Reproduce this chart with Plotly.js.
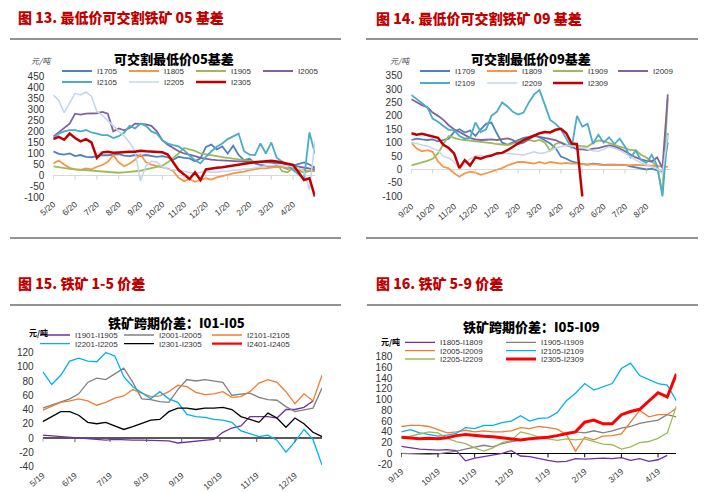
<!DOCTYPE html>
<html><head><meta charset="utf-8">
<script src="https://cdn.plot.ly/plotly-3.0.1.min.js"></script>
<style>html,body{margin:0;padding:0;background:#fff;}#chart{width:706px;height:492px;}</style>
</head><body><div id="chart"></div>
<script>
// ---------------- Panel 1 : 可交割最低价05基差 (quarter-month steps from 5/20) ----------------
const P1_TICKVALS = [0,4,8,12,16,20,24,28,32,36,40,44];
const P1_TICKTEXT = ['5/20','6/20','7/20','8/20','9/20','10/20','11/20','12/20','1/20','2/20','3/20','4/20'];
const P1_YTICKS = [-100,-50,0,50,100,150,200,250,300,350,400,450];
const P1_I1705 = [110,98,95,100,88,93,85,83,88,93,92,95,97,90,88,93,88,93,88,85,88,82,72,85,80,78,65,78,130,140,118,132,100,135,93,70,76,55,48,45,40,47,40,30,45,52,60,50,35];
const P1_I1805 = [55,68,50,35,28,26,32,28,40,48,62,92,60,42,55,72,95,60,50,45,40,32,20,-10,-25,-15,-28,-20,-12,-18,-8,-2,5,10,15,18,25,30,33,33,38,40,38,33,30,25,25,20,20];
const P1_I1905 = [42,38,32,30,28,26,24,20,18,17,16,13,13,15,17,18,22,28,35,40,45,60,80,100,125,120,112,100,95,92,88,84,80,76,72,68,65,63,63,62,60,55,20,15,35,20,15,20,25];
const P1_I2005 = [176,195,212,235,280,276,280,282,282,288,280,200,213,205,215,235,235,232,225,200,160,140,125,110,100,95,88,80,75,72,70,68,66,65,64,63,62,60,62,60,60,58,55,50,48,40,35,30,28];
const P1_I2105 = [168,190,200,206,206,200,206,195,190,183,183,170,178,195,225,213,235,225,200,190,160,145,138,132,115,90,70,55,85,110,130,145,165,176,190,110,95,93,146,100,150,80,63,48,25,5,-15,195,100];
const P1_I2205 = [365,340,285,330,372,365,378,358,290,272,250,225,200,180,150,110,-25,45,65,62,40,30,25,25,20,15,10,15,20,15,15,20,20,25,25,30,30,35,40,45,45,50,45,45,40,35,20,-65,155];
const P1_I2305 = [165,175,162,190,170,155,165,150,80,105,108,103,105,108,108,108,112,110,108,108,106,95,60,25,5,-15,15,-20,28,30,35,38,42,48,50,55,57,60,62,64,67,64,58,55,48,15,-20,-12,-95];

// ---------------- Panel 2 : 可交割最低价09基差 (quarter-month steps from 9/20) ----------------
const P2_TICKVALS = [0,4,8,12,16,20,24,28,32,36,40,44];
const P2_TICKTEXT = ['9/20','10/20','11/20','12/20','1/20','2/20','3/20','4/20','5/20','6/20','7/20','8/20'];
const P2_YTICKS = [-100,-50,0,50,100,150,200,250,300,350];
const P2_I1709 = [110,115,112,110,112,105,110,115,140,150,138,145,125,150,170,175,135,100,92,100,110,118,122,128,120,110,97,80,48,40,30,25,20,18,22,20,17,18,17,16,17,12,8,4,0,3,-5,-10,100];
const P2_I1809 = [100,78,68,72,66,30,10,4,-14,-27,-14,-8,-12,-20,-14,-8,0,5,15,23,28,28,25,22,28,22,28,25,22,25,22,22,20,18,20,18,16,17,18,16,15,16,17,15,15,14,12,10,10];
const P2_I1909 = [15,20,25,32,40,60,95,125,118,112,110,108,106,104,102,98,95,92,91,96,104,104,110,105,110,100,70,95,102,92,90,88,86,85,100,108,106,100,92,85,80,72,72,55,45,30,10,-90,265];
const P2_I2009 = [262,250,240,232,212,200,185,165,150,140,128,118,112,110,111,112,110,113,116,110,95,100,112,125,122,118,116,110,100,90,85,75,75,72,78,80,85,90,85,78,68,55,45,38,32,30,45,5,280];
const P2_I2109 = [278,262,248,232,190,178,162,148,147,125,115,118,175,140,150,200,215,250,235,215,205,212,250,280,296,240,185,170,150,115,80,200,160,170,95,130,100,120,95,115,85,45,70,35,25,55,15,-100,135];
const P2_I2209 = [100,97,91,88,79,70,50,42,30,5,20,40,50,52,48,50,62,62,60,58,55,54,60,66,60,62,70,80,85,90,88,85,82,75,70,68,75,85,80,72,60,45,35,25,17,10,3,-15,130];
const P2_I2309 = [135,130,133,128,122,118,92,80,60,5,35,15,45,40,48,52,60,62,72,85,98,110,118,128,135,140,138,148,152,135,97,95,-100];

// ---------------- Panel 3 : 铁矿跨期价差 I01-I05 (quarter-month steps from 5/19) ----------------
const P3_TICKVALS = [0,3.58,7.47,11.54,15.43,19.68,23.75,28];
const P3_TICKTEXT = ['5/19','6/19','7/19','8/19','9/19','10/19','11/19','12/19'];
const P3_YTICKS = [-40,-20,0,20,40,60,80,100,120];
const P3_I1901 = [4,3,1,0,-1,-2,-2,-3,-2,-3,-3,-3,-3,-4,-4,-7,-6,-4,-3,-2,8,14,17,30,30,30,28,40,40,43,52];
const P3_I2001 = [42,46,50,55,62,78,84,82,90,98,78,55,54,51,50,68,82,80,82,80,78,60,62,63,57,54,53,44,37,40,42,70];
const P3_I2101 = [39,44,50,52,55,52,46,50,56,59,68,63,58,59,65,74,72,64,61,62,65,57,58,65,77,82,78,65,48,62,52,88];
const P3_I2201 = [93,75,88,108,112,108,107,120,115,86,72,64,55,65,55,50,33,30,29,26,25,22,10,6,2,4,-3,-20,-5,12,-2,-38];
const P3_I2301 = [23,30,37,37,32,22,20,22,17,12,16,20,25,26,37,42,42,40,42,42,43,40,30,26,22,35,28,15,28,20,8,2];
const P3_I2401 = [null];   // listed in the legend, no values drawn

// ---------------- Panel 4 : 铁矿跨期价差 I05-I09 (quarter-month steps from 9/19) ----------------
const P4_TICKVALS = [0,4,8,12,16,20,24,28];
const P4_TICKTEXT = ['9/19','10/19','11/19','12/19','1/19','2/19','3/19','4/19'];
const P4_YTICKS = [-20,0,20,40,60,80,100,120,140,160,180];
const P4_I1805 = [13,10,8,7,6,7,5,-14,-9,-6,-3,0,5,-5,-6,-10,-13,-16,-15,-10,-11,-10,-9,-10,-8,-13,-10,-15,-12,-4];
const P4_I1905 = [0,-1,-2,-2,-1,1,4,8,12,15,12,18,22,24,27,30,29,33,39,40,38,42,38,42,47,50,56,59,62,72,68];
const P4_I2005 = [50,52,52,50,44,38,40,43,40,42,40,40,42,48,46,50,48,45,35,4,30,25,32,33,36,58,80,68,72,72,84];
const P4_I2105 = [40,44,38,35,32,34,37,48,46,52,52,57,60,70,60,65,66,76,98,112,130,118,124,130,158,168,145,138,130,127,98];
const P4_I2205 = [30,32,36,40,38,28,22,18,10,4,10,20,24,40,36,30,27,24,27,25,27,22,17,16,8,12,20,22,28,38,88];
const P4_I2305 = [30,28,27,28,27,29,33,35,33,32,31,29,26,25,27,28,30,33,36,40,58,62,55,55,72,78,82,98,113,105,148];

// ---------------- layout helpers (pixel -> paper) ----------------
const W = 706, H = 492;
const fx = p => p / W;
const fy = p => 1 - p / H;
const NUM = 'Liberation Sans, Arial, sans-serif';
const CJK = 'Noto Sans CJK SC, sans-serif';

// trace spec: [values, name, colour, width, xaxis, yaxis, legend text x(px), legend row y(px), legend font size]
const SPECS = [
  [P1_I1705,'I1705','#4F81BD',1.8,'x','y',97,71,8],
  [P1_I1805,'I1805','#F79646',1.8,'x','y',164,71,8],
  [P1_I1905,'I1905','#9BBB59',1.8,'x','y',231,71,8],
  [P1_I2005,'I2005','#8064A2',1.8,'x','y',298,71,8],
  [P1_I2105,'I2105','#4BACC6',1.8,'x','y',97,82,8],
  [P1_I2205,'I2205','#C3D5EC',1.5,'x','y',164,82,8],
  [P1_I2305,'I2305','#C00000',2.5,'x','y',231,82,8],

  [P2_I1709,'I1709','#4F81BD',1.8,'x2','y2',455,71,8],
  [P2_I1809,'I1809','#F79646',1.8,'x2','y2',522,71,8],
  [P2_I1909,'I1909','#9BBB59',1.8,'x2','y2',588,71,8],
  [P2_I2009,'I2009','#8064A2',1.8,'x2','y2',653,71,8],
  [P2_I2109,'I2109','#4BACC6',1.8,'x2','y2',455,83,8],
  [P2_I2209,'I2209','#C3D5EC',1.5,'x2','y2',522,83,8],
  [P2_I2309,'I2309','#C00000',2.5,'x2','y2',588,83,8],

  [P3_I1901,'I1901-I1905','#7030A0',1.3,'x3','y3',75,335,8],
  [P3_I2001,'I2001-I2005','#808080',1.3,'x3','y3',159,335,8],
  [P3_I2101,'I2101-I2105','#ED7D31',1.3,'x3','y3',247,335,8],
  [P3_I2201,'I2201-I2205','#00B0F0',1.3,'x3','y3',75,343.7,8],
  [P3_I2301,'I2301-I2305','#000000',1.3,'x3','y3',159,343.7,8],
  [P3_I2401,'I2401-I2405','#FF0000',2.2,'x3','y3',247,343.7,8],

  [P4_I1805,'I1805-I1809','#7030A0',1.3,'x4','y4',440,342.3,8],
  [P4_I1905,'I1905-I1909','#808080',1.3,'x4','y4',541,342.3,8],
  [P4_I2005,'I2005-I2009','#ED7D31',1.3,'x4','y4',440,350.7,8],
  [P4_I2105,'I2105-I2109','#00B0F0',1.3,'x4','y4',541,350.7,8],
  [P4_I2205,'I2205-I2209','#9BBB59',1.3,'x4','y4',440,359,8],
  [P4_I2305,'I2305-I2309','#FF0000',3,'x4','y4',541,359,8]
];

function xax(d0, d1, range, tv, tt, anchor) {
  return {domain:[fx(d0), fx(d1)], range:range, anchor:anchor, tickmode:'array', tickvals:tv, ticktext:tt,
          tickangle:-40, tickfont:{family:NUM, size:8.5, color:'#333333'}, showgrid:false, zeroline:false,
          showline:false, ticks:'', ticklabelstandoff:-3, fixedrange:true};
}
function yax(top, bottom, range, tv, anchor, zc, zw) {
  return {domain:[fy(bottom), fy(top)], range:range, anchor:anchor, tickmode:'array', tickvals:tv,
          ticktext:tv.map(String), tickfont:{family:NUM, size:10, color:'#333333'}, showgrid:false,
          zeroline:true, zerolinecolor:zc, zerolinewidth:zw, showline:false, ticks:'', ticklabelstandoff:8, fixedrange:true};
}
function leg(xText, yp, size) {
  return {x:fx(xText - 40), y:fy(yp), xanchor:'left', yanchor:'middle', orientation:'h', bgcolor:'rgba(0,0,0,0)',
          borderwidth:0, font:{family:NUM, size:size, color:'#333333'}, itemwidth:30, traceorder:'normal', tracegroupgap:0};
}

const layout = {
  width:W, height:H, autosize:false, margin:{l:0,r:0,t:0,b:0,pad:0},
  paper_bgcolor:'#ffffff', plot_bgcolor:'#ffffff', showlegend:true,
  xaxis:  xax(53.3, 314.9, [0,48],   P1_TICKVALS, P1_TICKTEXT, 'y'),
  yaxis:  yax(72, 200, [-110.3,468.4], P1_YTICKS, 'x', '#D9D9D9', 1.5),
  xaxis2: xax(411.3, 671, [0,48.6],  P2_TICKVALS, P2_TICKTEXT, 'y2'),
  yaxis2: yax(70, 202, [-121.2,371], P2_YTICKS, 'x2', '#D9D9D9', 1.5),
  xaxis3: xax(42.7, 322, [0,31],     P3_TICKVALS, P3_TICKTEXT, 'y3'),
  yaxis3: yax(350, 471, [-46.3,123.5], P3_YTICKS, 'x3', '#595959', 1.5),
  xaxis4: xax(401.3, 676.4, [0,30],  P4_TICKVALS, P4_TICKTEXT, 'y4'),
  yaxis4: yax(354, 467, [-25.5,185.1], P4_YTICKS, 'x4', '#000000', 1.3)
};

const data = SPECS.map((s, i) => {
  const id = i === 0 ? 'legend' : 'legend' + (i + 1);
  layout[id] = leg(s[6], s[7], s[8]);
  return {type:'scatter', mode:'lines', y:s[0], name:s[1], xaxis:s[4], yaxis:s[5], legend:id,
          showlegend:true, line:{color:s[2], width:s[3]}, hoverinfo:'skip'};
});

const shapes = [];
function sep(x0, x1, y) {
  shapes.push({type:'line', xref:'paper', yref:'paper', x0:fx(x0), x1:fx(x1), y0:fy(y), y1:fy(y),
               line:{color:'#262626', width:1}});
}
sep(10,341,39); sep(10,341,238); sep(366,698,39); sep(366,698,238);
sep(10,341,305); sep(367,698,305);
function zticks(tv, xr, yr, color) {
  tv.forEach(v => shapes.push({type:'line', xref:xr, yref:yr, x0:v, x1:v, ysizemode:'pixel', yanchor:0,
                               y0:0, y1:-4, line:{color:color, width:1}}));
}
zticks(P1_TICKVALS,'x','y','#D0D0D0');
zticks(P2_TICKVALS,'x2','y2','#D0D0D0');
zticks(P3_TICKVALS,'x3','y3','#595959');
zticks(P4_TICKVALS,'x4','y4','#000000');

function ann(text, xp, yp, xanchor, font) {
  return {text:text, x:fx(xp), y:fy(yp), xref:'paper', yref:'paper', xanchor:xanchor, yanchor:'middle',
          showarrow:false, font:font};
}
const HEAD = {family:CJK, size:14, color:'#C00000', weight:900};
const TITLE = {family:CJK, size:13, color:'#000000', weight:900};
layout.shapes = shapes;
layout.annotations = [
  ann('图 13. 最低价可交割铁矿 05 基差', 16, 17, 'left', HEAD),
  ann('图 14. 最低价可交割铁矿 09 基差', 374, 18, 'left', HEAD),
  ann('图 15. 铁矿 1-5 价差', 16, 283, 'left', HEAD),
  ann('图 16. 铁矿 5-9 价差', 374, 283, 'left', HEAD),
  ann('可交割最低价05基差', 174, 59, 'center', TITLE),
  ann('可交割最低价09基差', 531, 59, 'center', TITLE),
  ann('铁矿跨期价差：I01-I05', 176, 322, 'center', TITLE),
  ann('铁矿跨期价差：I05-I09', 531, 326, 'center', TITLE),
  ann('元/吨', 41, 60, 'center', {family:CJK, size:8, color:'#404040', style:'italic'}),
  ann('元/吨', 400, 60, 'center', {family:CJK, size:8, color:'#404040', style:'italic'}),
  ann('元/吨', 38, 332, 'center', {family:CJK, size:8, color:'#000000', weight:'bold'}),
  ann('元/吨', 391, 341, 'center', {family:CJK, size:8, color:'#000000', weight:'bold'})
];

Plotly.newPlot('chart', data, layout, {staticPlot:true, displayModeBar:false});
</script></body></html>
